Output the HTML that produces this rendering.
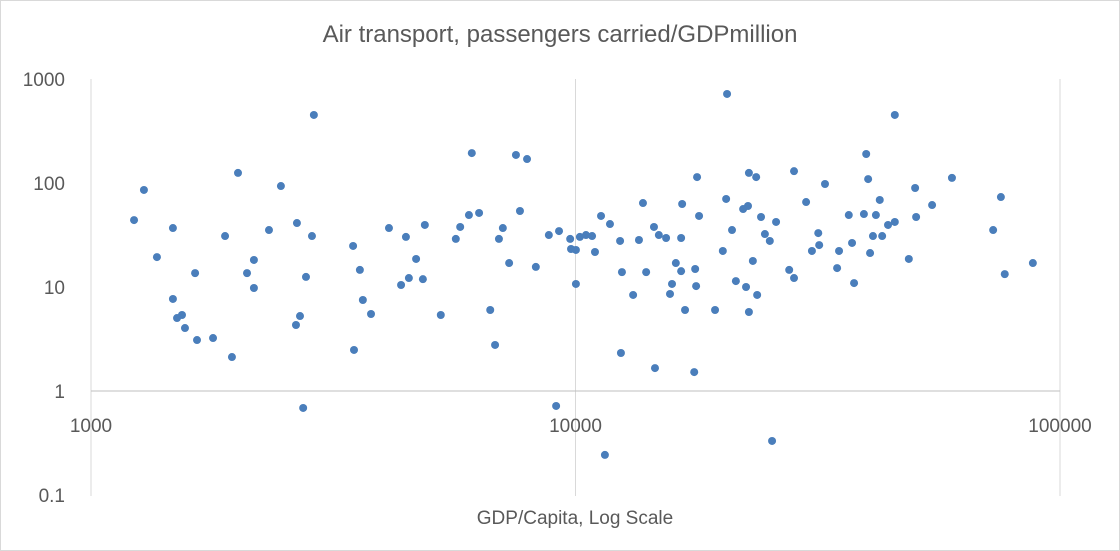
<!DOCTYPE html>
<html><head><meta charset="utf-8"><style>
html,body{margin:0;padding:0;background:#fff;}
svg{display:block;font-family:"Liberation Sans",sans-serif;}
</style></head><body>
<svg id="chart" width="1120" height="551" viewBox="0 0 1120 551">
<rect x="0.5" y="0.5" width="1119" height="550" fill="#fff" stroke="#d9d9d9"/>
<text x="560" y="42" text-anchor="middle" font-size="24" fill="#595959">Air transport, passengers carried/GDPmillion</text>
<text x="575" y="524" text-anchor="middle" font-size="19" fill="#595959">GDP/Capita, Log Scale</text>
<g id="grid"></g>
<g id="yticks"></g>
<g id="xticks"></g>
<g id="pts"></g>
</svg>
<script>
const xTicks = [1000, 10000, 100000];
const yTicks = [1000, 100, 10, 1, 0.1];
const gdp = [1227,1286,1368,1476,1476,1505,1541,1563,1640,1655,1786,1891,1954,2011,2099,2169,2169,2330,2466,2649,2661,2700,2741,2778,2858,2884,3475,3490,3589,3640,3784,4121,4365,4467,4530,4688,4842,4887,5272,5662,5781,6026,6109,6324,6668,6823,6950,7080,7295,7535,7680,7943,8282,8810,9120,9247,9750,9790,10020,10020,10210,10510,10820,10970,11290,11500,11780,12360,12410,12470,13150,13520,13780,13990,14520,14590,14860,15380,15670,15820,16110,16520,16520,16600,16830,17580,17660,17740,17820,17990,19410,20140,20460,20550,21040,21430,22180,22490,22700,22800,22800,23230,23600,23710,24150,24600,25180,25450,25940,27610,28250,28250,29920,30760,31700,31840,32730,34670,34990,36650,37220,37580,39380,39810,40180,40550,41110,41690,42460,42950,44160,45610,45610,48750,50230,50470,54450,59840,72780,75510,76910,87900];
const passengers = [44,85.7,19.4,36.9,7.67,5.03,5.38,4.03,13.6,3.09,3.23,30.9,2.12,125,13.6,18.2,9.78,35.3,93.5,4.31,41.2,5.26,0.687,12.5,30.9,451,24.8,2.48,14.6,7.5,5.5,36.9,10.45,30.3,12.2,18.6,11.9,39.5,5.38,29,37.8,49.2,194,51.5,6.01,2.77,29,36.9,17.0,186,53.8,170,15.6,31.6,0.718,34.5,29,23.2,22.7,10.7,30.3,31.6,30.9,21.7,48.2,0.243,40.3,27.7,2.32,13.9,8.38,28.3,64.2,13.9,37.8,1.66,31.6,29.6,8.57,10.7,17.0,14.2,29.6,62.8,6.01,1.52,14.9,10.2,114,48.2,6.01,22.2,70.2,718,35.3,11.4,56.2,10,60.1,125,5.75,17.8,114,8.38,47.1,32.3,27.7,0.331,42.2,14.6,130,12.2,65.6,22.2,33,25.3,97.8,15.2,22.2,49.2,26.5,10.9,50.3,190,109,21.2,30.9,49.2,68.7,30.9,39.5,451,42.2,18.6,89.5,47.1,61.4,112,35.3,73.3,13.3,17.0];

const NS = "http://www.w3.org/2000/svg";
const X0 = 91, X1 = 1060, Y0 = 495, Y1 = 79;
function xScale(v){ return X0 + (Math.log10(v) - 3) / 2 * (X1 - X0); }
function yScale(v){ return Y0 - (Math.log10(v) + 1) / 4 * (Y0 - Y1); }
function mk(tag, attrs){ const e = document.createElementNS(NS, tag); for (const k in attrs) e.setAttribute(k, attrs[k]); return e; }

const grid = document.getElementById('grid');
xTicks.forEach(t => {
  const l = mk('line', {x1: xScale(t), x2: xScale(t), y1: Y1, y2: Y0 + 1, stroke: '#d9d9d9', 'stroke-width': 1});
  
  
  grid.appendChild(l);
});
const ax = mk('line', {x1: X0, x2: X1, y1: yScale(1), y2: yScale(1), stroke: '#bfbfbf', 'stroke-width': 1});


grid.appendChild(ax);

const yt = document.getElementById('yticks');
yTicks.forEach(t => {
  const tx = mk('text', {x: 65, y: yScale(t) + 7, 'text-anchor': 'end', 'font-size': 19, fill: '#595959'});
  tx.textContent = String(t);
  
  
  yt.appendChild(tx);
});
const xt = document.getElementById('xticks');
xTicks.forEach(t => {
  const tx = mk('text', {x: xScale(t), y: yScale(1) + 41, 'text-anchor': 'middle', 'font-size': 19, fill: '#595959'});
  tx.textContent = String(t);
  
  
  xt.appendChild(tx);
});

const pts = document.getElementById('pts');
gdp.forEach((g, i) => {
  const c = mk('circle', {cx: xScale(g), cy: yScale(passengers[i]), r: 4, fill: '#4a7ebb'});
  
  
  pts.appendChild(c);
});
</script>
</body></html>
